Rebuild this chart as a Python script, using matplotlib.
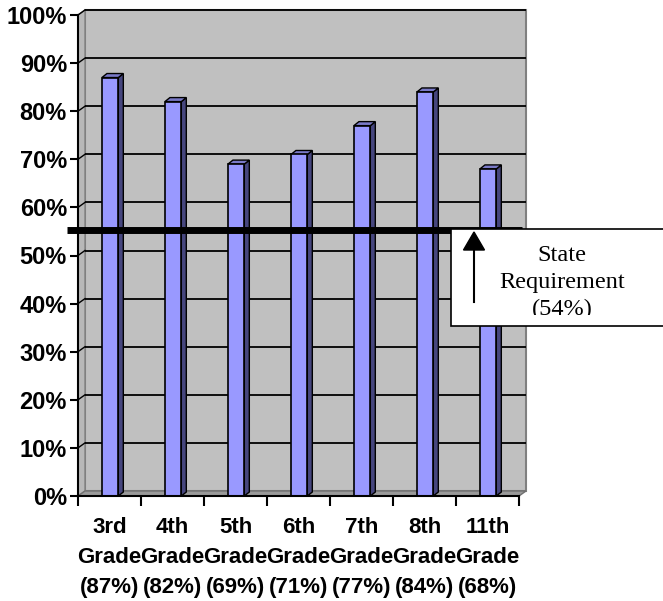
import matplotlib
matplotlib.use("Agg")
import matplotlib.pyplot as plt
from matplotlib.patches import Polygon, Rectangle
from matplotlib.transforms import Affine2D

# ---- data ----
grades = ["3rd", "4th", "5th", "6th", "7th", "8th", "11th"]
scores = [0.87, 0.82, 0.69, 0.71, 0.77, 0.84, 0.68]
y_ticks = [0.0, 0.1, 0.2, 0.3, 0.4, 0.5, 0.6, 0.7, 0.8, 0.9, 1.0]
y_tick_labels = ["0%", "10%", "20%", "30%", "40%", "50%", "60%", "70%", "80%", "90%", "100%"]
requirement_label = "State\nRequirement\n(54%)"
requirement_line = 0.553  # where the drawn line sits on the chart

W, H = 663, 601
fig = plt.figure(figsize=(W / 100, H / 100), dpi=100)
fig.patch.set_facecolor("white")

# front frame of the plot, in image pixels (top-left origin)
L, R, B, T = 78, 519, 496, 15
ax = fig.add_axes([L / W, 1 - B / H, (R - L) / W, (B - T) / H])
n = len(grades)
ax.set_xlim(0, n)
ax.set_ylim(0, 1)
ax.set_facecolor("none")
for s in ax.spines.values():
    s.set_visible(False)

px = n / (R - L)   # data units per pixel in x
py = 1.0 / (B - T)  # data units per pixel in y
wdx, wdy = 7 * px, 5 * py   # wall depth
bdx, bdy = 5 * px, 4 * py   # bar depth

wall_gray = "#C0C0C0"
edge_gray = "#808080"

# back wall
ax.add_patch(Polygon([(wdx, wdy), (n + wdx, wdy), (n + wdx, 1 + wdy), (wdx, 1 + wdy)],
                     closed=True, facecolor=wall_gray, edgecolor=edge_gray, lw=1.5,
                     clip_on=False, zorder=1))
# left side wall
ax.add_patch(Polygon([(0, 0), (wdx, wdy), (wdx, 1 + wdy), (0, 1)],
                     closed=True, facecolor="#B8B8B8", edgecolor=edge_gray, lw=1,
                     clip_on=False, zorder=1))
# floor
ax.add_patch(Polygon([(0, 0), (n, 0), (n + wdx, wdy), (wdx, wdy)],
                     closed=True, facecolor="#9A9A9A", edgecolor="#707070", lw=1,
                     clip_on=False, zorder=2))

# gridlines on back wall and side wall
for yv in y_ticks[1:]:
    ax.plot([wdx, n + wdx], [yv + wdy, yv + wdy], color="black", lw=1.3,
            clip_on=False, zorder=2, solid_capstyle="butt")
    ax.plot([0, wdx], [yv, yv + wdy], color="black", lw=1.0, clip_on=False, zorder=2)

# bars
front_col = "#9999FF"
side_col = "#46467E"
top_col = "#7A7AC8"
bw = 0.26
for i, v in enumerate(scores):
    x0 = i + 0.38
    x1 = x0 + bw
    ax.add_patch(Polygon([(x1, 0), (x1 + bdx, bdy), (x1 + bdx, v + bdy), (x1, v)],
                         closed=True, facecolor=side_col, edgecolor="black", lw=1,
                         clip_on=False, zorder=3))
    ax.add_patch(Polygon([(x0, v), (x1, v), (x1 + bdx, v + bdy), (x0 + bdx, v + bdy)],
                         closed=True, facecolor=top_col, edgecolor="black", lw=1,
                         clip_on=False, zorder=3))
    ax.add_patch(Rectangle((x0, 0), bw, v, facecolor=front_col, edgecolor="black",
                           lw=1.2, clip_on=False, zorder=4))

# axes lines
ax.plot([0, 0], [0, 1], color="black", lw=1.5, clip_on=False, zorder=5)
ax.plot([0, n], [0, 0], color="black", lw=1.5, clip_on=False, zorder=5)

# y ticks
ax.set_yticks(y_ticks)
ax.set_yticklabels(y_tick_labels, fontsize=17, fontweight="bold", family="Liberation Sans")
ax.tick_params(axis="y", direction="out", length=6, width=1.5, pad=2)

# x ticks: boundaries (major) and labels (minor)
ax.set_xticks(range(n + 1))
ax.set_xticklabels([""] * (n + 1))
ax.tick_params(axis="x", which="major", direction="out", length=7, width=1.5)
ax.set_xticks([i + 0.5 for i in range(n)], minor=True)
xlabels = [f"{g}\nGrade\n({round(v * 100)}%)" for g, v in zip(grades, scores)]
ax.set_xticklabels(xlabels, minor=True, fontsize=16, fontweight="bold",
                   family="Liberation Sans", linespacing=1.56)
ax.tick_params(axis="x", which="minor", length=0, pad=15)

# ---- overlay annotation (drawn shapes, in image pixels) ----
img = Affine2D().scale(1, -1).translate(0, H)  # display pixels == image pixels at dpi 100

# requirement line
ax.plot([-11 * px, n + 3 * px], [requirement_line, requirement_line], color="black",
        lw=5, clip_on=False, zorder=10, solid_capstyle="butt")

box = Rectangle((451, 229), 250, 97, transform=img, facecolor="white",
                edgecolor="black", lw=1.2, zorder=11)
fig.add_artist(box)

clip = Rectangle((451, 229), 250, 86, transform=img, facecolor="none", edgecolor="none")
t = fig.text(562 / W, 1 - 245 / H, requirement_label, ha="center", va="top",
             fontsize=17.5, family="Liberation Serif", linespacing=1.36, zorder=12)
t.set_clip_path(clip)
t.set_clip_on(True)

# arrow
fig.add_artist(plt.Line2D([474, 474], [302, 248], transform=img, color="black", lw=1.5, zorder=12))
fig.add_artist(Polygon([(474, 232), (463.5, 250), (484.5, 250)], closed=True, transform=img,
                       facecolor="black", edgecolor="black", lw=1, zorder=12))

fig.savefig("out.png", dpi=100)
